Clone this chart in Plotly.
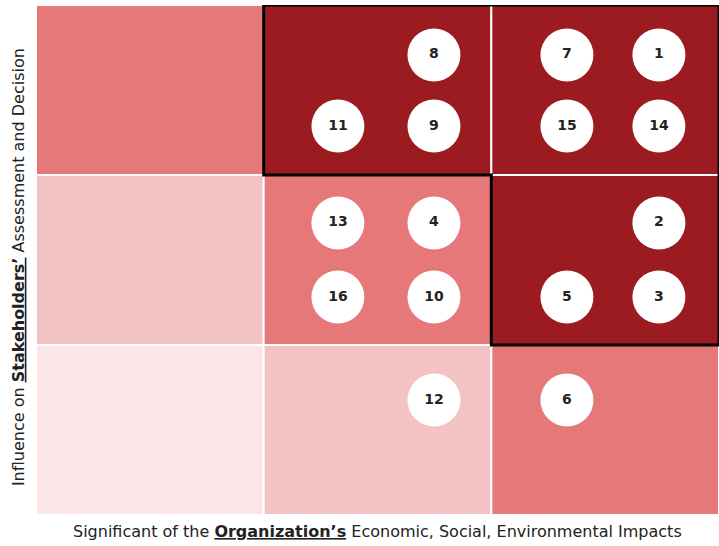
import plotly.graph_objects as go

# Grid cell colours, rows from bottom (0) to top (2), columns left to right
cell_colors = [
    ["#FAE6E6", "#F3C3C4", "#E6787A"],
    ["#F3C3C4", "#E6787A", "#9B1B20"],
    ["#E6787A", "#9B1B20", "#9B1B20"],
]

# Issue numbers and their positions on the matrix (0-3 scale each axis)
labels = ["1", "2", "3", "4", "5", "6", "7", "8", "9", "10", "11", "12", "13", "14", "15", "16"]
impact = [2.736, 2.736, 2.736, 1.748, 2.332, 2.332, 2.332, 1.748, 1.748, 1.748,
          1.326, 1.748, 1.326, 2.736, 2.332, 1.326]
influence = [2.706, 1.718, 1.282, 1.718, 1.282, 0.676, 2.706, 2.706, 2.288, 1.282,
             2.288, 0.676, 1.718, 2.288, 2.288, 1.282]

# Outline of the material-topic region
outline_x = [1, 3, 3, 2, 2, 1, 1]
outline_y = [3, 3, 1, 1, 2, 2, 3]

x_title = "Significant of the <b><u>Organization’s</u></b> Economic, Social, Environmental Impacts"
y_title = "Influence on <b><u>Stakeholders’</u></b> Assessment and Decision"

fig = go.Figure()

shapes = []
for r, row in enumerate(cell_colors):
    for c, col in enumerate(row):
        shapes.append(dict(type="rect", xref="x", yref="y", x0=c, x1=c + 1, y0=r, y1=r + 1,
                           fillcolor=col, line=dict(color="white", width=2), layer="below"))

path = "M " + " L ".join(f"{x},{y}" for x, y in zip(outline_x, outline_y)) + " Z"
shapes.append(dict(type="path", xref="x", yref="y", path=path,
                   line=dict(color="black", width=3), fillcolor="rgba(0,0,0,0)", layer="above"))

fig.add_trace(go.Scatter(
    x=impact, y=influence, mode="markers+text", text=labels,
    textposition="middle center",
    textfont=dict(family="DejaVu Sans", size=14, color="#222222", weight="bold"),
    marker=dict(size=53, color="white", line=dict(width=0)),
    hoverinfo="skip", showlegend=False, cliponaxis=False,
))

title_font = dict(family="DejaVu Sans", size=16, color="#222222")
annotations = [
    dict(text=x_title, xref="paper", yref="paper", x=0.5, y=-0.033,
         xanchor="center", yanchor="middle", showarrow=False, font=title_font),
    dict(text=y_title, xref="paper", yref="paper", x=-0.0264, y=0.486, textangle=-90,
         xanchor="center", yanchor="middle", showarrow=False, font=title_font),
]

fig.update_layout(
    width=719, height=546,
    margin=dict(l=36, r=0, t=5, b=31, autoexpand=False),
    paper_bgcolor="white", plot_bgcolor="white",
    shapes=shapes, annotations=annotations,
    xaxis=dict(range=[0, 3], showgrid=False, zeroline=False, showticklabels=False,
               ticks="", fixedrange=True),
    yaxis=dict(range=[0, 3], showgrid=False, zeroline=False, showticklabels=False,
               ticks="", fixedrange=True),
)

fig.write_html("out.html", config={"displayModeBar": False},
               post_script="document.body.style.margin='0';document.body.style.overflow='hidden';")
